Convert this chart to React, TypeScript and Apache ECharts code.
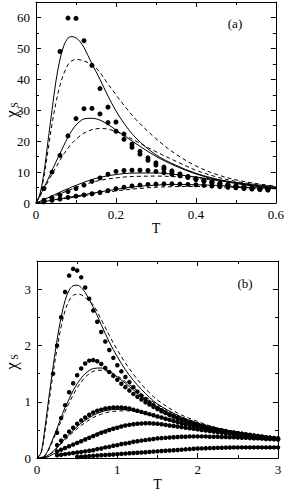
import React, { useEffect, useRef } from "react";
import * as echarts from "echarts";

// ---------- Panel (a) ----------
const tDotsA = [0.02,0.04,0.06,0.08,0.10,0.12,0.14,0.16,0.18,0.20,0.22,0.24,0.26,0.28,0.30,0.32,0.34,0.36,0.38,0.40,0.42,0.44,0.46,0.48,0.50,0.52,0.54,0.56,0.58];
const dotsA1 = [null,null,49,59.8,59.7,52.5,44.5,37,31,26.2,22.3,19,16.7,14.6,13,11.6,10.4,9.4,8.6,7.9,7.3,6.8,6.3,5.9,5.5,5.2,4.9,4.7,4.5];
const dotsA2 = [4.7,10,15.4,21.7,27.3,30.5,30.6,28.8,26,23.2,20.6,18,15.8,13.8,12.3,11,10,9.1,8.3,7.6,7.0,6.5,6.1,5.7,5.3,5.0,4.7,4.5,4.3];
const dotsA3 = [0.9,1.7,2.6,3.7,4.7,5.8,7.0,8.1,9.3,10.2,10.5,10.6,10.6,10.5,10.2,9.8,9.3,8.8,8.3,7.7,7.2,6.7,6.3,5.9,5.5,5.2,4.9,4.7,4.5];
const dotsA4 = [0.4,0.9,1.3,1.8,2.2,2.6,3.0,3.4,4.0,4.6,5.1,5.5,5.8,6.0,6.1,6.2,6.2,6.1,6.0,5.9,5.7,5.5,5.3,5.1,4.9,4.7,4.5,4.3,4.2];

const tLineA = [0,0.01,0.02,0.03,0.04,0.05,0.06,0.07,0.08,0.09,0.1,0.11,0.12,0.14,0.16,0.18,0.2,0.22,0.25,0.3,0.35,0.4,0.45,0.5,0.55,0.6];
const solidA1 = [0,3,10,20,30,39.5,46.5,51,53.3,53.8,53.4,52.2,50.3,45,40,34.6,29.8,25.8,21,15.6,12.2,9.6,7.8,6.5,5.5,4.8];
const dashA1 = [0,2.5,8.5,17,25.5,32.5,38,42,44.7,46,46.4,46.3,45.9,44.8,42.2,38.5,35,31.6,27,20.8,15.8,12,9.3,7.5,6.3,5.4];
const solidA2 = [0,2.4,5,7.7,10.5,13.3,16,18.7,21.3,23.5,25.2,26.4,27.2,27.4,26.8,25.4,23.6,21.8,19.2,15.1,11.9,9.4,7.6,6.3,5.4,4.7];
const dashA2 = [0,2.2,4.5,6.9,9.3,11.6,13.8,15.9,17.7,19.3,20.6,21.7,22.6,23.7,24.1,23.9,23.1,22,20,16.6,13.5,10.6,8.5,7,6,5.3];
const solidA3 = [0,0.55,1.1,1.7,2.3,2.9,3.5,4.1,4.6,5.2,5.7,6.2,6.7,7.6,8.3,8.8,9.2,9.5,9.7,9.7,9.2,8.4,7.5,6.6,5.7,5.0];
const dashA3 = [0,0.5,1,1.5,2,2.5,3,3.5,4,4.5,5,5.5,5.9,6.7,7.3,7.8,8.1,8.4,8.6,8.7,8.5,8.0,7.3,6.6,5.9,5.3];
const solidA4 = [0,0.22,0.45,0.67,0.9,1.12,1.35,1.57,1.8,2.02,2.25,2.47,2.7,3.15,3.6,4.0,4.4,4.8,5.3,5.8,6.0,5.9,5.7,5.3,4.9,4.6];
const dashA4 = [0,0.2,0.4,0.6,0.8,1.0,1.2,1.4,1.6,1.8,2.0,2.2,2.4,2.8,3.2,3.55,3.9,4.2,4.6,5.1,5.3,5.35,5.25,5.05,4.85,4.65];

// ---------- Panel (b) ----------
const tDotsB = [0.2,0.25,0.3,0.35,0.4,0.45,0.5,0.55,0.6,0.65,0.7,0.75,0.8,0.85,0.9,0.95,1.0,1.05,1.1,1.15,1.2,1.25,1.3,1.35,1.4,1.45,1.5,1.55,1.6,1.65,1.7,1.75,1.8,1.85,1.9,1.95,2.0,2.05,2.1,2.15,2.2,2.25,2.3,2.35,2.4,2.45,2.5,2.55,2.6,2.65,2.7,2.75,2.8,2.85,2.9,2.95,3.0];
const dotsB1 = [1.5,2.0,2.5,2.95,3.24,3.36,3.33,3.21,3.03,2.83,2.62,2.42,2.24,2.07,1.92,1.78,1.65,1.54,1.44,1.35,1.26,1.18,1.11,1.05,0.99,0.94,0.89,0.85,0.81,0.77,0.74,0.71,0.68,0.65,0.63,0.61,0.59,0.57,0.55,0.53,0.52,0.5,0.49,0.48,0.46,0.45,0.44,0.43,0.42,0.41,0.4,0.39,0.38,0.37,0.36,0.35,0.34];
const dotsB2 = [null,0.45,0.71,0.94,1.17,1.33,1.47,1.59,1.68,1.73,1.74,1.72,1.67,1.6,1.53,1.46,1.39,1.32,1.26,1.2,1.14,1.09,1.04,0.99,0.95,0.91,0.87,0.83,0.8,0.77,0.74,0.71,0.68,0.66,0.63,0.61,0.59,0.57,0.55,0.53,0.52,0.5,0.49,0.47,0.46,0.45,0.44,0.43,0.42,0.41,0.4,0.39,0.38,0.37,0.36,0.35,0.34];
const dotsB3 = [null,0.23,0.31,0.39,0.47,0.54,0.61,0.67,0.72,0.77,0.81,0.84,0.86,0.88,0.89,0.9,0.9,0.9,0.89,0.88,0.86,0.84,0.82,0.8,0.78,0.76,0.74,0.72,0.7,0.68,0.66,0.64,0.62,0.6,0.59,0.57,0.56,0.54,0.53,0.52,0.5,0.49,0.48,0.47,0.46,0.45,0.44,0.43,0.42,0.41,0.4,0.39,0.38,0.37,0.36,0.355,0.35];
const dotsB4 = [null,0.12,0.15,0.18,0.21,0.24,0.27,0.3,0.33,0.36,0.39,0.42,0.45,0.47,0.5,0.52,0.54,0.56,0.58,0.59,0.6,0.61,0.615,0.62,0.62,0.615,0.61,0.6,0.59,0.58,0.57,0.56,0.55,0.54,0.53,0.52,0.51,0.5,0.49,0.48,0.47,0.46,0.45,0.44,0.43,0.42,0.41,0.405,0.4,0.39,0.385,0.38,0.37,0.365,0.36,0.355,0.35];
const dotsB5 = [null,0.05,0.06,0.07,0.08,0.09,0.1,0.11,0.12,0.13,0.14,0.16,0.17,0.19,0.2,0.22,0.23,0.25,0.26,0.27,0.29,0.3,0.31,0.32,0.33,0.34,0.35,0.355,0.36,0.365,0.37,0.375,0.38,0.38,0.385,0.385,0.385,0.385,0.385,0.38,0.38,0.38,0.375,0.375,0.37,0.37,0.365,0.36,0.36,0.355,0.35,0.35,0.345,0.34,0.34,0.335,0.33];
const dotsB6 = [null,null,null,null,null,null,0.02,0.025,0.03,0.035,0.04,0.045,0.05,0.055,0.06,0.065,0.07,0.075,0.08,0.085,0.09,0.095,0.1,0.105,0.11,0.115,0.12,0.125,0.13,0.135,0.14,0.145,0.15,0.155,0.16,0.165,0.17,0.172,0.175,0.178,0.18,0.182,0.184,0.186,0.188,0.19,0.19,0.19,0.19,0.19,0.19,0.19,0.19,0.19,0.19,0.19,0.19];

const tLineB = [0,0.05,0.1,0.15,0.2,0.25,0.3,0.35,0.4,0.45,0.5,0.55,0.6,0.7,0.8,0.9,1.0,1.1,1.2,1.3,1.4,1.5,1.75,2.0,2.25,2.5,2.75,3.0];
const solidB1 = [0,0.1,0.55,1.1,1.62,2.1,2.5,2.8,2.98,3.06,3.07,3.03,2.94,2.68,2.37,2.06,1.8,1.57,1.38,1.22,1.08,0.96,0.76,0.62,0.52,0.45,0.39,0.35];
const dashB1 = [0,0.08,0.48,1.0,1.5,1.95,2.33,2.62,2.8,2.89,2.91,2.9,2.85,2.72,2.46,2.18,1.92,1.69,1.49,1.31,1.16,1.03,0.8,0.65,0.53,0.45,0.39,0.35];
const solidB2 = [0,0.01,0.05,0.18,0.35,0.53,0.72,0.9,1.05,1.2,1.32,1.42,1.5,1.59,1.6,1.54,1.44,1.33,1.21,1.1,1.0,0.91,0.73,0.61,0.52,0.45,0.39,0.35];
const dashB2 = [0,0.01,0.04,0.16,0.32,0.49,0.66,0.83,0.98,1.12,1.25,1.35,1.44,1.54,1.56,1.53,1.46,1.36,1.25,1.14,1.04,0.95,0.76,0.63,0.53,0.46,0.4,0.35];
const solidB3 = [0,0,0.02,0.06,0.12,0.19,0.27,0.35,0.42,0.49,0.56,0.62,0.67,0.76,0.82,0.855,0.865,0.86,0.84,0.81,0.77,0.73,0.63,0.55,0.48,0.43,0.38,0.35];
const dashB3 = [0,0,0.02,0.05,0.11,0.18,0.25,0.32,0.39,0.46,0.52,0.58,0.63,0.72,0.78,0.82,0.835,0.84,0.83,0.8,0.77,0.73,0.63,0.55,0.48,0.43,0.38,0.35];
const solidB4 = [0,0,0.01,0.03,0.07,0.1,0.14,0.17,0.21,0.25,0.28,0.31,0.35,0.41,0.47,0.52,0.56,0.59,0.61,0.615,0.61,0.6,0.56,0.5,0.46,0.42,0.38,0.35];

const SERIF = "Liberation Serif";

const zip = (t: number[], v: (number | null)[]) =>
  t.map((x, i) => [x, v[i]]).filter((p) => p[1] !== null);

function lineSeries(t: number[], v: number[], dashed: boolean, idx: number) {
  return {
    type: "line",
    xAxisIndex: idx * 2,
    yAxisIndex: idx * 2,
    data: zip(t, v),
    showSymbol: false,
    smooth: 0.35,
    lineStyle: { color: "#000", width: 1, type: dashed ? [4, 3] : "solid" },
    z: 3,
  };
}

function dotSeries(t: number[], v: (number | null)[], idx: number, size: number) {
  return {
    type: "scatter",
    xAxisIndex: idx * 2,
    yAxisIndex: idx * 2,
    data: zip(t, v),
    symbol: "circle",
    symbolSize: size,
    itemStyle: { color: "#000", opacity: 1 },
    z: 4,
  };
}

function axesFor(grid: number, xmax: number, xint: number, ymax: number, yint: number) {
  const common = {
    gridIndex: grid,
    type: "value",
    axisLine: { show: true, onZero: false, lineStyle: { color: "#000", width: 1 } },
    axisTick: { show: true, inside: true, length: 5, lineStyle: { color: "#000" } },
    minorTick: { show: true, splitNumber: 2, length: 3, lineStyle: { color: "#000" } },
    splitLine: { show: false },
  };
  const label = { color: "#000", fontFamily: SERIF, fontSize: 13 };
  const xAxes = [
    {
      ...common, position: "bottom", min: 0, max: xmax, interval: xint,
      axisLabel: { ...label, margin: 5 },
      name: "T", nameLocation: "middle", nameGap: 17,
      nameTextStyle: { color: "#000", fontFamily: SERIF, fontSize: 14 },
    },
    { ...common, position: "top", min: 0, max: xmax, interval: xint, axisLabel: { show: false } },
  ];
  const yAxes = [
    { ...common, position: "left", min: 0, max: ymax, interval: yint, axisLabel: { ...label, margin: 6, showMaxLabel: false } },
    { ...common, position: "right", min: 0, max: ymax, interval: yint, axisLabel: { show: false } },
  ];
  return { xAxes, yAxes };
}

function chiLabel(x: number, y: number) {
  return {
    type: "group",
    x,
    y,
    rotation: Math.PI / 2,
    children: [
      { type: "text", x: 0, y: 0, style: { text: "χ", font: `17px ${SERIF}`, fill: "#000", textAlign: "center", textVerticalAlign: "middle" } },
      { type: "text", x: 9, y: 3, style: { text: "S", font: `10px ${SERIF}`, fill: "#000", textAlign: "center", textVerticalAlign: "middle" } },
    ],
  };
}

export default function App() {
  const ref = useRef<HTMLDivElement>(null);
  useEffect(() => {
    if (!ref.current) return;
    const chart = echarts.init(ref.current, null, { renderer: "svg" });
    const a = axesFor(0, 0.6, 0.2, 65, 10);
    const b = axesFor(1, 3, 1, 3.5, 1);
    chart.setOption({
      animation: false,
      backgroundColor: "#fff",
      grid: [
        { left: 36, top: 2, width: 242, height: 201 },
        { left: 37, top: 261, width: 241, height: 202 },
      ],
      xAxis: [...a.xAxes, ...b.xAxes],
      yAxis: [...a.yAxes, ...b.yAxes],
      graphic: [
        chiLabel(11, 114),
        chiLabel(11, 366),
        { type: "text", x: 235, y: 23, style: { text: "(a)", font: `13px ${SERIF}`, fill: "#000", textAlign: "center", textVerticalAlign: "middle" } },
        { type: "text", x: 245, y: 283, style: { text: "(b)", font: `13px ${SERIF}`, fill: "#000", textAlign: "center", textVerticalAlign: "middle" } },
      ],
      series: [
        lineSeries(tLineA, solidA1, false, 0),
        lineSeries(tLineA, dashA1, true, 0),
        lineSeries(tLineA, solidA2, false, 0),
        lineSeries(tLineA, dashA2, true, 0),
        lineSeries(tLineA, solidA3, false, 0),
        lineSeries(tLineA, dashA3, true, 0),
        lineSeries(tLineA, solidA4, false, 0),
        lineSeries(tLineA, dashA4, true, 0),
        dotSeries(tDotsA, dotsA1, 0, 5),
        dotSeries(tDotsA, dotsA2, 0, 5),
        dotSeries(tDotsA, dotsA3, 0, 5),
        dotSeries(tDotsA, dotsA4, 0, 5),
        lineSeries(tLineB, solidB1, false, 1),
        lineSeries(tLineB, dashB1, true, 1),
        lineSeries(tLineB, solidB2, false, 1),
        lineSeries(tLineB, dashB2, true, 1),
        lineSeries(tLineB, solidB3, false, 1),
        lineSeries(tLineB, dashB3, true, 1),
        lineSeries(tLineB, solidB4, false, 1),
        dotSeries(tDotsB, dotsB1, 1, 4.5),
        dotSeries(tDotsB, dotsB2, 1, 4.5),
        dotSeries(tDotsB, dotsB3, 1, 4.5),
        dotSeries(tDotsB, dotsB4, 1, 4.5),
        dotSeries(tDotsB, dotsB5, 1, 4.5),
        dotSeries(tDotsB, dotsB6, 1, 4.5),
      ],
    });
    return () => chart.dispose();
  }, []);
  return <div ref={ref} style={{ width: 287, height: 492, position: "absolute", left: 0, top: 0 }} />;
}
